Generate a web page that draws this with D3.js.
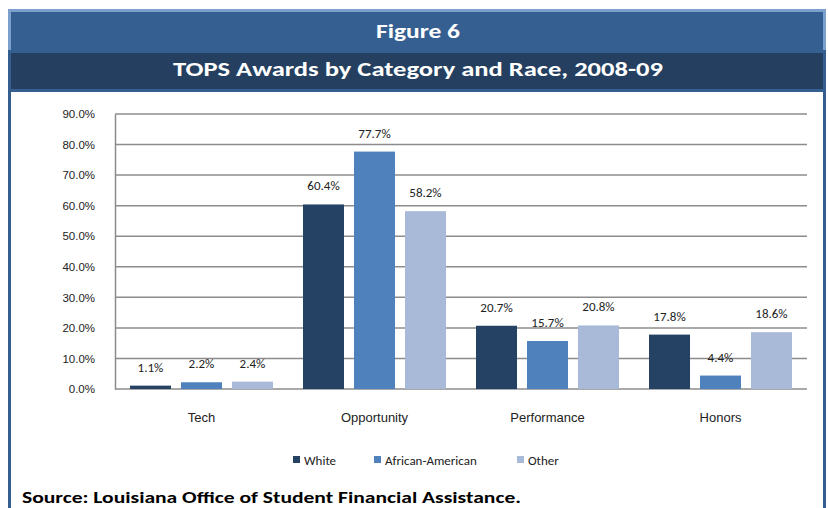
<!DOCTYPE html>
<html>
<head>
<meta charset="utf-8">
<script src="https://cdn.jsdelivr.net/npm/d3@7"></script>
<style>
  body { margin: 0; background: #fff; }
  svg { display: block; font-family: Carlito, Calibri, Lato, sans-serif; }
</style>
</head>
<body>
<div id="chart"></div>
<script>
// data
var categories = ["Tech", "Opportunity", "Performance", "Honors"];
var series = ["White", "African-American", "Other"];
var white = [1.1, 60.4, 20.7, 17.8];
var african = [2.2, 77.7, 15.7, 4.4];
var other = [2.4, 58.2, 20.8, 18.6];
var yTicks = [0, 10, 20, 30, 40, 50, 60, 70, 80, 90];
var colors = ["#254163", "#4f81bd", "#a9bad9"];

var svgWidth = 828;
var svgHeight = 508;

var margin = { top: 114, right: 21, bottom: 119, left: 115 };
var width = svgWidth - margin.left - margin.right;
var height = svgHeight - margin.top - margin.bottom;

var svg = d3.select("#chart")
  .append("svg")
  .attr("width", svgWidth)
  .attr("height", svgHeight);

// header frame
svg.append("rect").attr("x", 8).attr("y", 9).attr("width", 818).attr("height", 44).attr("fill", "#7ba0cd");
svg.append("rect").attr("x", 8).attr("y", 50).attr("width", 3).attr("height", 458).attr("fill", "#365f91");
svg.append("rect").attr("x", 823).attr("y", 50).attr("width", 3).attr("height", 458).attr("fill", "#365f91");
svg.append("rect").attr("x", 11).attr("y", 12).attr("width", 812).attr("height", 41).attr("fill", "#365f91");
svg.append("rect").attr("x", 11).attr("y", 53).attr("width", 812).attr("height", 36).attr("fill", "#243f60");
svg.append("rect").attr("x", 11).attr("y", 89).attr("width", 812).attr("height", 3).attr("fill", "#365f91");

svg.append("text")
  .attr("x", 418).attr("y", 38)
  .attr("text-anchor", "middle")
  .attr("fill", "#fff")
  .attr("font-size", 21).attr("font-weight", "bold")
  .attr("textLength", 84).attr("lengthAdjust", "spacingAndGlyphs")
  .text("Figure 6");

svg.append("text")
  .attr("x", 418).attr("y", 76)
  .attr("text-anchor", "middle")
  .attr("fill", "#fff")
  .attr("font-size", 21).attr("font-weight", "bold")
  .attr("textLength", 490).attr("lengthAdjust", "spacingAndGlyphs")
  .text("TOPS Awards by Category and Race, 2008-09");

var chartGroup = svg.append("g")
  .attr("transform", `translate(${margin.left}, ${margin.top})`);

var x0 = d3.scaleBand().domain(categories).range([0, width]);
var x1 = d3.scaleBand().domain(series)
  .range([15, x0.bandwidth() - 15])
  .paddingInner(0.196);
var y = d3.scaleLinear().domain([0, 90]).range([height, 0]);

// gridlines
chartGroup.append("g")
  .selectAll("line")
  .data(yTicks)
  .enter()
  .append("line")
  .attr("x1", 0).attr("x2", width)
  .attr("y1", d => y(d)).attr("y2", d => y(d))
  .attr("stroke", "#8c8c8c")
  .attr("stroke-width", 1.5);

// y axis
var leftAxis = d3.axisLeft(y).tickValues(yTicks)
  .tickSize(0).tickPadding(20)
  .tickFormat(d => d.toFixed(1) + "%");
var yAxis = chartGroup.append("g").call(leftAxis);
yAxis.select(".domain").attr("stroke", "#8c8c8c").attr("stroke-width", 1.5);
yAxis.selectAll("text").attr("font-size", 11.5).attr("fill", "#222").attr("font-family", null);

// x axis labels
var bottomAxis = d3.axisBottom(x0).tickSize(0).tickPadding(24);
var xAxis = chartGroup.append("g")
  .attr("transform", `translate(0, ${height})`)
  .call(bottomAxis);
xAxis.select(".domain").remove();
xAxis.selectAll("text").attr("font-size", 13).attr("fill", "#222").attr("font-family", null);

var rows = categories.map(function(c, i) {
  return { cat: c, vals: [white[i], african[i], other[i]] };
});

var groups = chartGroup.selectAll(".grp")
  .data(rows)
  .enter()
  .append("g")
  .attr("transform", d => `translate(${x0(d.cat)}, 0)`);

groups.selectAll("rect")
  .data(d => d.vals.map((v, j) => ({ s: series[j], v: v, j: j })))
  .enter()
  .append("rect")
  .attr("x", d => x1(d.s))
  .attr("y", d => y(d.v))
  .attr("width", x1.bandwidth())
  .attr("height", d => height - y(d.v))
  .attr("fill", d => colors[d.j]);

groups.selectAll(".lbl")
  .data(d => d.vals.map((v, j) => ({ s: series[j], v: v })))
  .enter()
  .append("text")
  .attr("x", d => x1(d.s) + x1.bandwidth() / 2)
  .attr("y", d => y(d.v) - 14)
  .attr("text-anchor", "middle")
  .attr("font-size", 13)
  .attr("fill", "#222")
  .text(d => d.v.toFixed(1) + "%");

// legend
var legendX = [293, 374, 517];
var legend = svg.append("g");
series.forEach(function(s, i) {
  legend.append("rect")
    .attr("x", legendX[i]).attr("y", 456)
    .attr("width", 7).attr("height", 7)
    .attr("fill", colors[i]);
  legend.append("text")
    .attr("x", legendX[i] + 11).attr("y", 464.5)
    .attr("font-size", 13).attr("fill", "#222")
    .text(s);
});

svg.append("text")
  .attr("x", 22).attr("y", 503)
  .attr("font-size", 16).attr("font-weight", "bold")
  .attr("fill", "#000")
  .attr("textLength", 499).attr("lengthAdjust", "spacingAndGlyphs")
  .text("Source: Louisiana Office of Student Financial Assistance.");
</script>
</body>
</html>
